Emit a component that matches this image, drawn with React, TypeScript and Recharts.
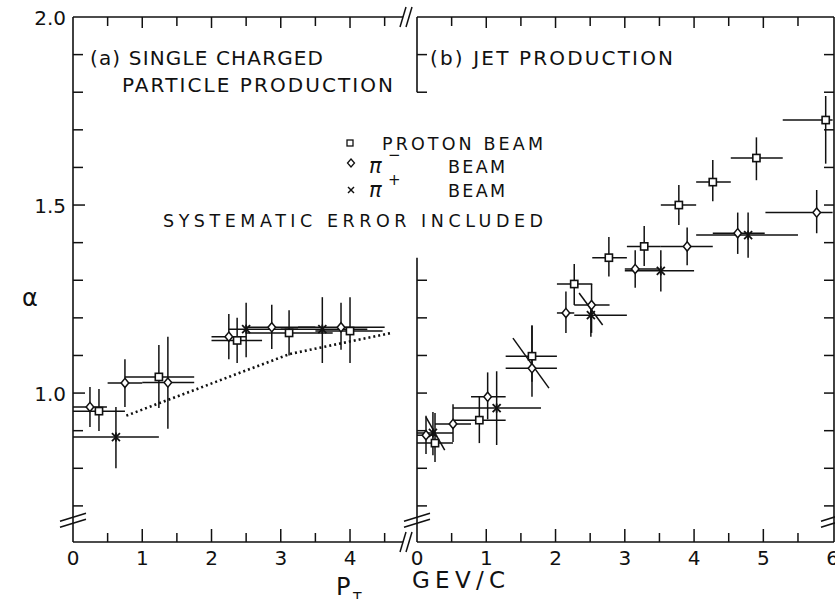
import React from 'react';
import { ComposedChart, Scatter, Line, XAxis, YAxis, ErrorBar, ReferenceLine } from 'recharts';

const W = 835;
const H = 599;
const INK = '#111';
const FONT = '"DejaVu Sans", "Liberation Sans", sans-serif';

// shared alpha axis, with the break below 0.7
const Y_MIN = 0.604;
const Y_MAX = 2.0;
const Y_BREAK = 0.662;
const yTicksA = [Y_BREAK, 0.7, 0.8, 0.9, 1.0, 1.1, 1.2, 1.3, 1.4, 1.5, 1.6, 1.7, 1.8, 1.9, 2.0];
const yTicksBLeft = [Y_BREAK, 0.7, 0.8, 0.9, 1.0, 1.1, 1.2, 1.3, 1.8, 1.9];
const yTicksBRight = [Y_BREAK, 0.7, 0.8, 0.9, 1.0, 1.1, 1.2, 1.3, 1.4, 1.5, 1.6, 1.7, 1.8, 1.9];
const yLabels = [1.0, 1.5, 2.0];

// pT axes (GeV/c)
const XA_MAX = 4.765;
const XB_MAX = 6.02;
const xTicksA = [0, 0.5, 1, 1.5, 2, 2.5, 3, 3.5, 4, 4.5, XA_MAX];
const xTopTicksA = [0.5, 1, 1.5, 2, 2.5, 3, 3.5, 4, 4.5, XA_MAX];
const xTicksB = [0, 0.5, 1, 1.5, 2, 2.5, 3, 3.5, 4, 4.5, 5, 5.5, 6];
const xTopTicksB = [0.5, 1, 1.5, 2, 2.5, 3, 3.5, 4, 4.5, 5, 5.5];

// rows: [pT, alpha, pT low, pT high, alpha low, alpha high]
type Row = [number, number, number, number, number, number];

// (a) single charged particle production
const aProton: Row[] = [
  [0.375, 0.952, 0, 0.75, 0.899, 1.011],
  [1.24, 1.043, 0.75, 1.75, 0.96, 1.128],
  [2.37, 1.14, 2.0, 2.73, 1.08, 1.2],
  [3.12, 1.16, 2.5, 3.75, 1.1, 1.22],
  [4.0, 1.165, 3.5, 4.47, 1.08, 1.255],
];
const aPiMinus: Row[] = [
  [0.245, 0.963, 0, 0.49, 0.91, 1.016],
  [0.75, 1.027, 0.5, 1.0, 0.963, 1.09],
  [1.37, 1.028, 1.0, 1.75, 0.905, 1.15],
  [2.25, 1.15, 2.0, 2.5, 1.09, 1.21],
  [2.87, 1.175, 2.5, 3.5, 1.117, 1.235],
  [3.87, 1.175, 3.25, 4.5, 1.115, 1.24],
];
const aPiPlus: Row[] = [
  [0.62, 0.883, 0, 1.24, 0.8, 0.963],
  [2.5, 1.17, 2.25, 3.25, 1.095, 1.24],
  [3.6, 1.17, 3.0, 4.25, 1.08, 1.255],
];
// dotted curve in (a)
const aDotted = [
  { x: 0.77, y: 0.94 },
  { x: 3.13, y: 1.104 },
  { x: 4.6, y: 1.16 },
];

// (b) jet production
const bProton: Row[] = [
  [0.26, 0.867, 0, 0.52, 0.817, 0.947],
  [0.9, 0.928, 0.52, 1.28, 0.867, 0.99],
  [1.66, 1.098, 1.28, 2.02, 1.03, 1.18],
  [2.27, 1.29, 2.02, 2.53, 1.234, 1.343],
  [2.77, 1.36, 2.53, 3.03, 1.31, 1.415],
  [3.28, 1.39, 3.03, 3.52, 1.338, 1.444],
  [3.78, 1.5, 3.52, 4.03, 1.447, 1.553],
  [4.27, 1.561, 4.03, 4.53, 1.51, 1.62],
  [4.9, 1.625, 4.53, 5.28, 1.566, 1.68],
  [5.9, 1.726, 5.28, 6.0, 1.61, 1.79],
];
const bPiMinus: Row[] = [
  [0.13, 0.888, 0, 0.26, 0.838, 0.94],
  [0.52, 0.918, 0.26, 0.78, 0.87, 0.97],
  [1.02, 0.99, 0.78, 1.28, 0.93, 1.055],
  [1.66, 1.066, 1.28, 2.02, 0.99, 1.18],
  [2.15, 1.213, 2.02, 2.27, 1.16, 1.27],
  [2.52, 1.234, 2.27, 2.78, 1.16, 1.29],
  [3.15, 1.33, 3.0, 3.5, 1.28, 1.38],
  [3.9, 1.39, 3.52, 4.27, 1.34, 1.44],
  [4.63, 1.425, 4.27, 5.02, 1.37, 1.48],
  [5.77, 1.48, 5.03, 6.0, 1.425, 1.54],
];
const bPiPlus: Row[] = [
  [0.23, 0.894, 0, 0.52, 0.835, 0.95],
  [1.15, 0.96, 0.52, 1.79, 0.862, 1.058],
  [2.51, 1.207, 2.27, 3.03, 1.15, 1.234],
  [3.52, 1.325, 3.0, 4.0, 1.27, 1.38],
  [4.78, 1.42, 4.03, 5.5, 1.36, 1.48],
];
// slanted (correlated) error bars in (b): [x1, y1, x2, y2]
const bSlanted: [number, number, number, number][] = [
  [0.13, 0.936, 0.4, 0.848],
  [1.385, 1.146, 1.905, 1.013],
  [2.34, 1.266, 2.68, 1.181],
];

const toPoints = (rows: Row[]) =>
  rows.map(([x, y, xlo, xhi, ylo, yhi]) => ({ x, y, ex: [x - xlo, xhi - x], ey: [y - ylo, yhi - y] }));

const isInt = (v: number) => Math.abs(v - Math.round(v)) < 1e-6;
const near = (a: number, b: number) => Math.abs(a - b) < 1e-6;

// "//" across a horizontal axis
const XBreak = ({ x, y }: { x: number; y: number }) => (
  <g stroke={INK} strokeWidth={1.5}>
    <line x1={x - 7} y1={y + 10} x2={x - 1} y2={y - 10} />
    <line x1={x - 1} y1={y + 10} x2={x + 5} y2={y - 10} />
  </g>
);
// "//" across a vertical axis
const YBreak = ({ x, y }: { x: number; y: number }) => (
  <g stroke={INK} strokeWidth={1.5}>
    <line x1={x - 13} y1={y + 7} x2={x + 13} y2={y - 1} />
    <line x1={x - 13} y1={y + 1} x2={x + 13} y2={y - 7} />
  </g>
);

const bottomTick = (breakAt: number | null, lastTick: number) => (p: any) => {
  const { x, y } = p;
  const v = p.payload.value as number;
  if (breakAt !== null && near(v, breakAt)) return <XBreak x={x + 4} y={y} />;
  const major = isInt(v);
  return (
    <g>
      {v > 0 && v < lastTick && (
        <line x1={x} x2={x} y1={y} y2={y - (major ? 13 : 9)} stroke={INK} strokeWidth={1.5} />
      )}
      {major && (
        <text x={x} y={y + 23} textAnchor="middle" fontSize={20} fontFamily={FONT} fill={INK}>
          {v}
        </text>
      )}
    </g>
  );
};

const topTick = (breakAt: number | null) => (p: any) => {
  const { x, y } = p;
  const v = p.payload.value as number;
  if (breakAt !== null && near(v, breakAt)) return <XBreak x={x + 4} y={y} />;
  return <line x1={x} x2={x} y1={y} y2={y + (isInt(v) ? 11 : 9)} stroke={INK} strokeWidth={1.5} />;
};

const leftTick = (withLabels: boolean) => (p: any) => {
  const { x, y } = p;
  const v = p.payload.value as number;
  if (near(v, Y_BREAK)) return <YBreak x={x} y={y} />;
  const labelled = withLabels && yLabels.some((l) => near(l, v));
  return (
    <g>
      {!near(v, Y_MAX) && (
        <line x1={x} x2={x + (labelled ? 12 : 10)} y1={y} y2={y} stroke={INK} strokeWidth={1.5} />
      )}
      {labelled && (
        <text x={x - 7} y={y + 8} textAnchor="end" fontSize={20} fontFamily={FONT} fill={INK}>
          {v.toFixed(1)}
        </text>
      )}
    </g>
  );
};

const rightTick = (p: any) => {
  const { x, y } = p;
  const v = p.payload.value as number;
  if (near(v, Y_BREAK)) return <YBreak x={x} y={y} />;
  return <line x1={x} x2={x - 10} y1={y} y2={y} stroke={INK} strokeWidth={1.5} />;
};

const squareShape = (p: any) => (
  <rect x={p.cx - 3.6} y={p.cy - 3.6} width={7.2} height={7.2} fill="#fff" stroke={INK} strokeWidth={1.6} />
);
const diamondShape = (p: any) => {
  const { cx, cy } = p;
  return (
    <path
      d={`M${cx},${cy - 4.6}L${cx + 3.8},${cy}L${cx},${cy + 4.6}L${cx - 3.8},${cy}Z`}
      fill="#fff"
      stroke={INK}
      strokeWidth={1.5}
    />
  );
};
const starShape = (p: any) => {
  const { cx, cy } = p;
  return (
    <g stroke={INK} strokeWidth={1.8}>
      <line x1={cx - 4} y1={cy - 4} x2={cx + 4} y2={cy + 4} />
      <line x1={cx - 4} y1={cy + 4} x2={cx + 4} y2={cy - 4} />
      <line x1={cx} y1={cy - 4.5} x2={cx} y2={cy + 4.5} />
    </g>
  );
};

function renderSeries(rows: Row[], shape: any, name: string) {
  return (
    <Scatter key={name} name={name} data={toPoints(rows)} dataKey="y" shape={shape} isAnimationActive={false}>
      <ErrorBar dataKey="ex" direction="x" width={0} stroke={INK} strokeWidth={1.5} isAnimationActive={false} />
      <ErrorBar dataKey="ey" direction="y" width={0} stroke={INK} strokeWidth={1.5} isAnimationActive={false} />
    </Scatter>
  );
}

const axisLine = { stroke: INK, strokeWidth: 1.6 };

export default function App() {
  return (
    <div style={{ position: 'absolute', left: 0, top: 0, width: W, height: H, background: '#fff' }}>
      {/* panel (a) */}
      <div style={{ position: 'absolute', left: 0, top: 0 }}>
        <ComposedChart width={W} height={H} margin={{ top: 7, right: W - 403, bottom: 27, left: 33 }}>
          <XAxis
            dataKey="x"
            type="number"
            domain={[0, XA_MAX]}
            ticks={xTicksA}
            interval={0}
            allowDataOverflow
            height={30}
            tickSize={0}
            tickMargin={0}
            axisLine={axisLine}
            tickLine={false}
            tick={bottomTick(XA_MAX, 99)}
          />
          <XAxis
            xAxisId="top"
            orientation="top"
            dataKey="x"
            type="number"
            domain={[0, XA_MAX]}
            ticks={xTopTicksA}
            interval={0}
            allowDataOverflow
            height={10}
            tickSize={0}
            tickMargin={0}
            axisLine={axisLine}
            tickLine={false}
            tick={topTick(XA_MAX)}
          />
          <YAxis
            dataKey="y"
            type="number"
            domain={[Y_MIN, Y_MAX]}
            ticks={yTicksA}
            interval={0}
            allowDataOverflow
            width={40}
            tickSize={0}
            tickMargin={0}
            axisLine={axisLine}
            tickLine={false}
            tick={leftTick(true)}
          />
          <Line
            data={aDotted}
            dataKey="y"
            stroke={INK}
            strokeWidth={2.6}
            strokeDasharray="2 3"
            dot={false}
            isAnimationActive={false}
          />
          {renderSeries(aPiPlus, starShape, 'a-piplus')}
          {renderSeries(aPiMinus, diamondShape, 'a-piminus')}
          {renderSeries(aProton, squareShape, 'a-proton')}
        </ComposedChart>
      </div>

      {/* panel (b) */}
      <div style={{ position: 'absolute', left: 0, top: 0 }}>
        <ComposedChart width={W} height={H} margin={{ top: 7, right: 0, bottom: 27, left: 377 }}>
          <XAxis
            dataKey="x"
            type="number"
            domain={[0, XB_MAX]}
            ticks={xTicksB}
            interval={0}
            allowDataOverflow
            height={30}
            tickSize={0}
            tickMargin={0}
            axisLine={axisLine}
            tickLine={false}
            tick={bottomTick(null, 6)}
          />
          <XAxis
            xAxisId="top"
            orientation="top"
            dataKey="x"
            type="number"
            domain={[0, XB_MAX]}
            ticks={xTopTicksB}
            interval={0}
            allowDataOverflow
            height={10}
            tickSize={0}
            tickMargin={0}
            axisLine={axisLine}
            tickLine={false}
            tick={topTick(null)}
          />
          <YAxis
            dataKey="y"
            type="number"
            domain={[Y_MIN, Y_MAX]}
            ticks={yTicksBLeft}
            interval={0}
            allowDataOverflow
            width={40}
            tickSize={0}
            tickMargin={0}
            axisLine={false}
            tickLine={false}
            tick={leftTick(false)}
          />
          <YAxis
            yAxisId="r"
            orientation="right"
            dataKey="y"
            type="number"
            domain={[Y_MIN, Y_MAX]}
            ticks={yTicksBRight}
            interval={0}
            allowDataOverflow
            width={1}
            tickSize={0}
            tickMargin={0}
            axisLine={axisLine}
            tickLine={false}
            tick={rightTick}
          />
          <ReferenceLine
            segment={[{ x: 0, y: Y_MIN }, { x: 0, y: 1.36 }]}
            stroke={INK}
            strokeWidth={1.6}
            ifOverflow="visible"
          />
          <ReferenceLine
            segment={[{ x: 0, y: 1.8 }, { x: 0, y: Y_MAX }]}
            stroke={INK}
            strokeWidth={1.6}
            ifOverflow="visible"
          />
          {bSlanted.map(([x1, y1, x2, y2], i) => (
            <ReferenceLine
              key={'s' + i}
              segment={[{ x: x1, y: y1 }, { x: x2, y: y2 }]}
              stroke={INK}
              strokeWidth={1.5}
              ifOverflow="visible"
            />
          ))}
          {renderSeries(bPiPlus, starShape, 'b-piplus')}
          {renderSeries(bPiMinus, diamondShape, 'b-piminus')}
          {renderSeries(bProton, squareShape, 'b-proton')}
        </ComposedChart>
      </div>

      {/* annotations */}
      <svg
        width={W}
        height={H}
        style={{ position: 'absolute', left: 0, top: 0, pointerEvents: 'none' }}
        fontFamily={FONT}
        fill={INK}
      >
        <text x={90} y={65} fontSize={20} textLength={233} lengthAdjust="spacing">
          (a) SINGLE CHARGED
        </text>
        <text x={122} y={92} fontSize={20} textLength={271} lengthAdjust="spacing">
          PARTICLE PRODUCTION
        </text>
        <text x={430} y={65} fontSize={20} textLength={243} lengthAdjust="spacing">
          (b) JET PRODUCTION
        </text>

        <rect x={347} y={140} width={6} height={6} fill="none" stroke={INK} strokeWidth={1.3} />
        <text x={382} y={150} fontSize={17.5} textLength={161} lengthAdjust="spacing">
          PROTON BEAM
        </text>
        <path d="M351,159L354.5,163L351,167L347.5,163Z" fill="none" stroke={INK} strokeWidth={1.3} />
        <text x={369} y={173} fontSize={21} fontStyle="italic">π</text>
        <text x={388} y={160} fontSize={15}>−</text>
        <text x={448} y={173} fontSize={17.5} textLength={57} lengthAdjust="spacing">
          BEAM
        </text>
        <g stroke={INK} strokeWidth={1.4}>
          <line x1={348} y1={187} x2={354} y2={193} />
          <line x1={348} y1={193} x2={354} y2={187} />
        </g>
        <text x={369} y={197} fontSize={21} fontStyle="italic">π</text>
        <text x={388} y={185} fontSize={15}>+</text>
        <text x={448} y={197} fontSize={17.5} textLength={57} lengthAdjust="spacing">
          BEAM
        </text>
        <text x={163} y={227} fontSize={17.5} textLength={380} lengthAdjust="spacing">
          SYSTEMATIC ERROR INCLUDED
        </text>

        <text x={22} y={306} fontSize={24}>α</text>

        <text x={336} y={595} fontSize={24}>P</text>
        <text x={353} y={602} fontSize={14}>T</text>
        <text x={412} y={588} fontSize={23} textLength={93} lengthAdjust="spacing">
          GEV/C
        </text>
      </svg>
    </div>
  );
}
